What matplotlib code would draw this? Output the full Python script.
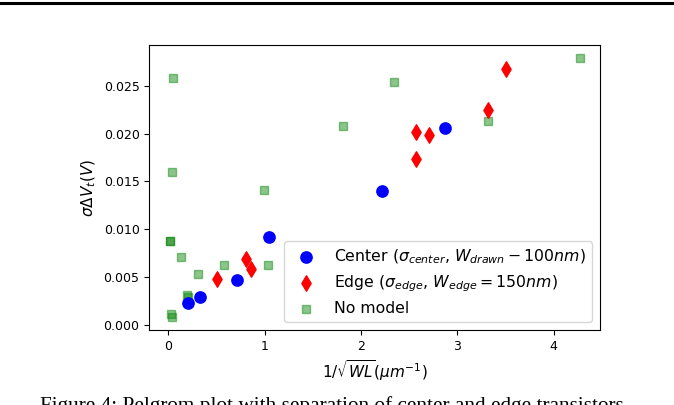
import matplotlib
matplotlib.use('Agg')
import matplotlib.pyplot as plt

# 1/sqrt(WL) in um^-1 and sigma dVt in V
center_x = [0.208, 0.333, 0.708, 1.049, 2.22, 2.87]
center_y = [0.00229, 0.00292, 0.00475, 0.00923, 0.0140, 0.0206]

edge_x = [0.51, 0.81, 0.856, 2.567, 2.712, 2.567, 3.317, 3.507]
edge_y = [0.0048, 0.00685, 0.0059, 0.0202, 0.0199, 0.0173, 0.0225, 0.0267]

nomodel_x = [0.052, 0.035, 0.99, 1.81, 2.34, 4.27, 3.32, 0.015, 0.02,
             0.132, 0.31, 0.577, 1.04, 0.19, 0.20, 0.025, 0.039]
nomodel_y = [0.0258, 0.0160, 0.0141, 0.0208, 0.0254, 0.0279, 0.0213, 0.0088, 0.0088,
             0.0071, 0.0053, 0.0063, 0.0063, 0.0031, 0.0029, 0.00115, 0.00083]

labels = [r'Center ($\sigma_{center}$, $W_{drawn}-100nm$)',
          r'Edge ($\sigma_{edge}$, $W_{edge}=150nm$)',
          'No model']
caption = 'Figure 4: Pelgrom plot with separation of center and edge transistors'

W, H = 674, 405
fig = plt.figure(figsize=(W / 100, H / 100), dpi=100)
ax = fig.add_axes([149.3 / W, (H - 330) / H, (600 - 149.3) / W, (330 - 45) / H])

h3 = ax.scatter(nomodel_x, nomodel_y, marker='s', s=32, c='g', alpha=0.45, label=labels[2])
h1 = ax.scatter(center_x, center_y, marker='o', s=66, c='b', label=labels[0])
h2 = ax.scatter(edge_x, edge_y, marker='d', s=62, c='r', label=labels[1])

ax.set_xticks([0, 1, 2, 3, 4])
ax.set_yticks([0.0, 0.005, 0.010, 0.015, 0.020, 0.025])
ax.tick_params(labelsize=9)
ax.set_xlabel(r'$1/\sqrt{WL}(\mu m^{-1})$', fontsize=11)
ax.set_ylabel(r'$\sigma \Delta V_t(V)$', fontsize=11)
ax.legend(handles=[h1, h2, h3], loc='lower right', fontsize=11.3, labelspacing=0.45)

# page decorations from the paper: rule at top and the cut-off caption
fig.add_artist(plt.Line2D([0, 1], [1 - 2.5 / H, 1 - 2.5 / H], color='black', lw=2.2))
fig.text(331.5 / W, 1 - 396 / H, caption, ha='center', va='top',
         family='Liberation Serif', fontsize=15.3)

fig.savefig('out.png', dpi=100)
